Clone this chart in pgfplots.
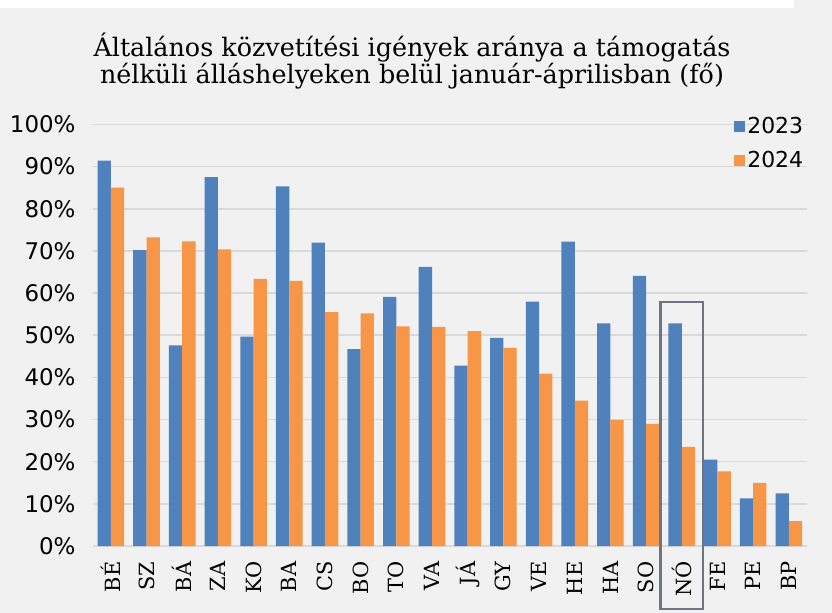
\documentclass[border=0pt]{standalone}
\usepackage{pgfplots}
\pgfplotsset{compat=1.18}
\usepackage{fontspec}
\setmainfont{DejaVu Serif}
\newfontfamily\ticksans{DejaVu Sans}
\definecolor{c23}{HTML}{4F81BD}
\definecolor{c24}{HTML}{F79646}
\definecolor{bgc}{HTML}{F1F1F1}
\definecolor{gridc}{HTML}{D9D9D9}
\definecolor{boxc}{HTML}{6D7580}
\pgfplotstableread{
x v23 v24
0 91.4 85.0
1 70.2 73.2
2 47.6 72.3
3 87.5 70.4
4 49.7 63.4
5 85.3 62.9
6 72.0 55.5
7 46.7 55.2
8 59.1 52.1
9 66.2 52.0
10 42.8 51.0
11 49.4 47.0
12 58.0 40.9
13 72.2 34.5
14 52.8 29.9
15 64.1 29.0
16 52.8 23.5
17 20.5 17.7
18 11.3 15.0
19 12.5 5.9
}\datatable
\begin{document}
\begin{tikzpicture}
\fill[bgc] (0,0) rectangle (832bp,613bp);
\fill[white] (0,605bp) rectangle (794bp,613bp);
\node[align=center, font=\fontsize{25.5}{28}\selectfont] at (412bp,552bp)
  {Általános közvetítési igények aránya a támogatás\\nélküli álláshelyeken belül január-áprilisban (fő)};
\begin{axis}[
  at={(93bp,67bp)}, anchor=south west,
  scale only axis, width=713.7bp, height=421.5bp,
  xmin=-0.5, xmax=19.5, ymin=0, ymax=100,
  clip=false,
  axis line style={draw=none},
  major tick length=0pt,
  ytick={0,10,...,100},
  ymajorgrids, grid style={gridc, line width=1.5bp},
  /pgf/number format/assume math mode=true,
  yticklabel={\pgfmathprintnumber[fixed,precision=0]{\tick}\%},
  yticklabel style={font=\ticksans\fontsize{23}{24}\selectfont, anchor=east},
  yticklabel shift=14bp,
  xtick={0,...,19},
  xticklabels={BÉ,SZ,BÁ,ZA,KO,BA,CS,BO,TO,VA,JÁ,GY,VE,HE,HA,SO,NÓ,FE,PE,BP},
  xticklabel style={rotate=90, anchor=east, font=\fontsize{21}{24}\selectfont},
  xticklabel shift=12bp,
  legend style={at={(0.998,1.022)}, anchor=north east, draw=none, fill=none,
    font=\ticksans\fontsize{22}{24}\selectfont, row sep=12bp, inner sep=0pt,
    /tikz/every even column/.append style={column sep=2bp}},
  legend cell align=left,
  legend image code/.code={\fill[#1] (0bp,-5.5bp) rectangle (11bp,5.5bp);},
]
\addplot[ybar, fill=c23, draw=none, bar width=0.373, bar shift=-0.1865] table[x=x, y=v23] {\datatable};
\addlegendentry{2023}
\addplot[ybar, fill=c24, draw=none, bar width=0.373, bar shift=0.1865] table[x=x, y=v24] {\datatable};
\addlegendentry{2024}
\draw[boxc, line width=2.5bp] (axis cs:15.4,57.9) rectangle (axis cs:16.6,-15);
\end{axis}
\end{tikzpicture}
\end{document}
